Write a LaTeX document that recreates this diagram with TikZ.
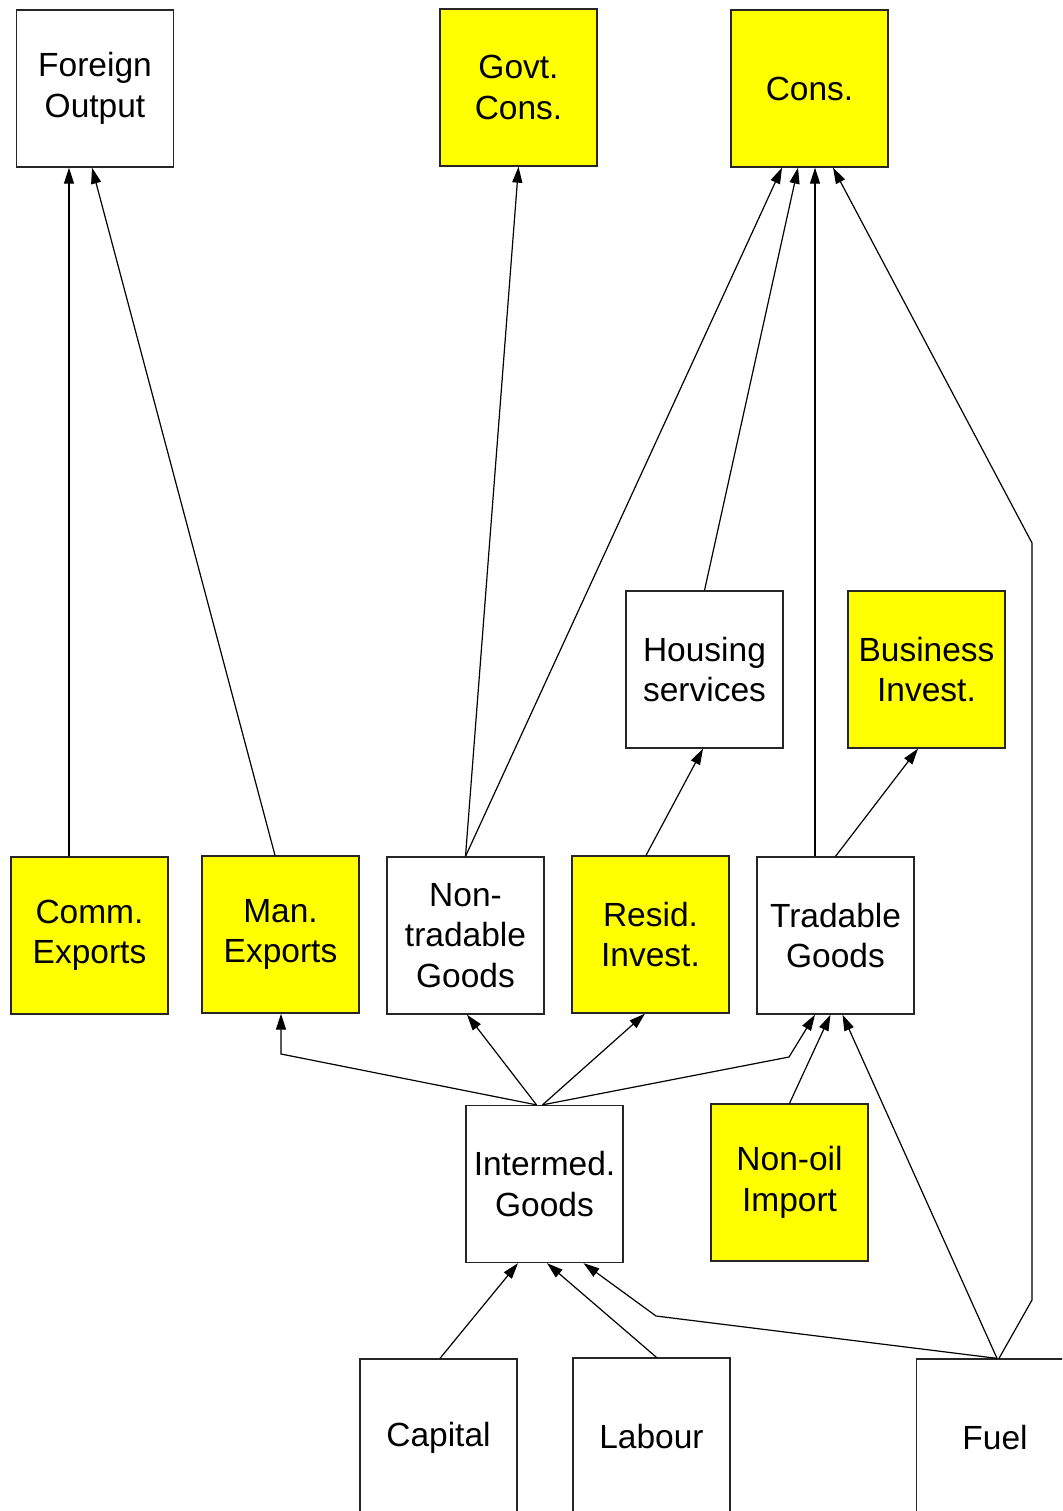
\documentclass[tikz,border=0pt]{standalone}
\usepackage{fontspec}
\setmainfont{Liberation Sans}
\usetikzlibrary{arrows.meta}
\definecolor{boxyellow}{RGB}{255,255,0}
\begin{document}
\begin{tikzpicture}[x=1pt,y=-1pt,
  box/.style={draw=black!85, line width=1.3pt, minimum width=157pt, minimum height=157pt,
    inner sep=0pt, align=center, font=\fontsize{33.5}{40.5}\selectfont},
  plain/.style={box, fill=white},
  hilite/.style={box, fill=boxyellow},
  link/.style={line width=1.2pt, -{Triangle[length=16pt, width=10pt]}},
  wire/.style={line width=1.2pt}]
\useasboundingbox (0,0) rectangle (1062,1511);
\clip (0,0) rectangle (1062,1511);
\fill[white] (0,0) rectangle (1062,1511);

% top row
\node[plain]  (fo)  at (95,88.5)    {Foreign\\Output};
\node[hilite] (gc)  at (518.5,87.5) {Govt.\\Cons.};
\node[hilite] (co)  at (809.5,88.5) {Cons.};
% middle row
\node[plain]  (hs)  at (704.5,669.5) {Housing\\services};
\node[hilite] (bi)  at (926.5,669.5) {Business\\Invest.};
% goods row
\node[hilite] (ce)  at (89.5,935.5)  {Comm.\\Exports};
\node[hilite] (me)  at (280.5,934.5) {Man.\\Exports};
\node[plain]  (nt)  at (465.5,935.5) {Non-\\tradable\\Goods};
\node[hilite] (ri)  at (650.5,934.5) {Resid.\\Invest.};
\node[plain]  (tg)  at (835.5,935.5) {Tradable\\Goods};
% inputs
\node[plain]  (ig)  at (544.5,1184)  {Intermed.\\Goods};
\node[hilite] (ni)  at (789.5,1182.5) {Non-oil\\Import};
\node[plain]  (cap) at (438.5,1437.5) {Capital};
\node[plain]  (lab) at (651.5,1436.5) {Labour};
\node[plain]  (fu)  at (995,1437.5)  {Fuel};

% bend points
\coordinate (bme) at (281,1054);
\coordinate (btg) at (789,1057);
\coordinate (big) at (656,1316);
\coordinate (bf1) at (1032,1300);
\coordinate (bf2) at (1032,543);

% exports to foreign output
\draw[link] ([xshift=-20.5pt]ce.north) -- ([xshift=-26pt]fo.south);
\draw[link] ([xshift=-5.5pt]me.north) -- ([xshift=-3pt]fo.south);
% into government and private consumption
\draw[link] (nt.north) -- (gc.south);
\draw[link] (nt.north) -- ([xshift=-27.5pt]co.south);
\draw[link] (hs.north) -- ([xshift=-11.5pt]co.south);
\draw[link] ([xshift=-20.5pt]tg.north) -- ([xshift=5.5pt]co.south);
\draw[link] ([xshift=4pt]fu.north) -- (bf1) -- (bf2) -- ([xshift=23.5pt]co.south);
% investment
\draw[link] ([xshift=-4.5pt]ri.north) -- ([xshift=-1.5pt]hs.south);
\draw[link] (tg.north) -- ([xshift=-8.5pt]bi.south);
% intermediate goods outputs
\draw[link] ([xshift=-8pt]ig.north) -- (bme) -- ([xshift=0.5pt]me.south);
\draw[link] ([xshift=-8pt]ig.north) -- ([xshift=1.5pt]nt.south);
\draw[link] ([xshift=-2pt]ig.north) -- ([xshift=-5.5pt]ri.south);
\draw[link] ([xshift=-2pt]ig.north) -- (btg) -- ([xshift=-20.5pt]tg.south);
% into tradable goods
\draw[link] (ni.north) -- ([xshift=-5pt]tg.south);
\draw[link] ([xshift=2pt]fu.north) -- ([xshift=7pt]tg.south);
% primary inputs
\draw[link] ([xshift=1.5pt]cap.north) -- ([xshift=-26.5pt]ig.south);
\draw[link] ([xshift=5pt]lab.north) -- ([xshift=2.5pt]ig.south);
\draw[link] ([xshift=2pt]fu.north) -- (big) -- ([xshift=39pt]ig.south);
\end{tikzpicture}
\end{document}
